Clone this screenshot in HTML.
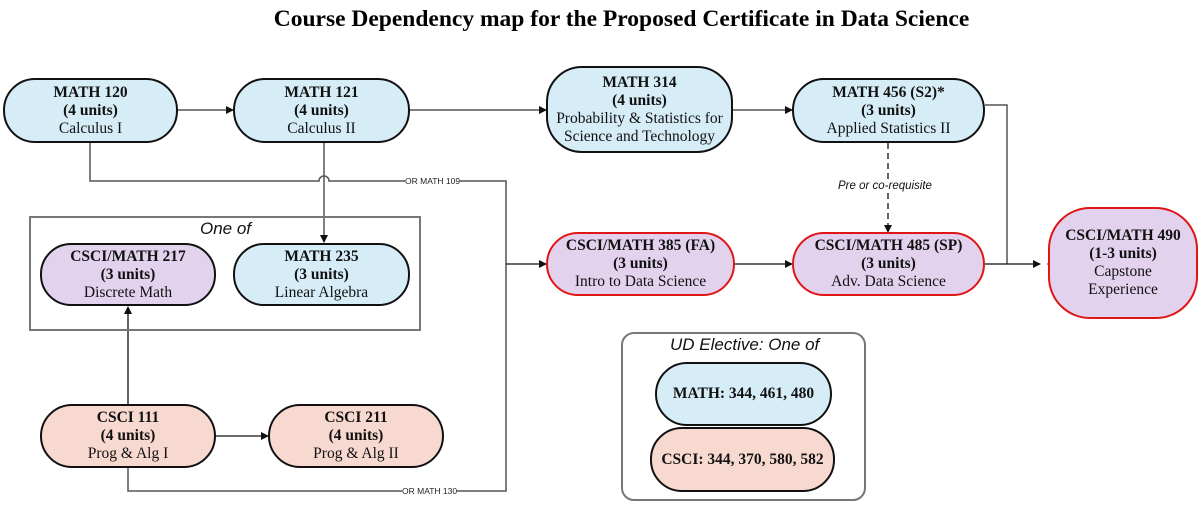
<!DOCTYPE html>
<html><head><meta charset="utf-8"><style>
body{margin:0;width:1201px;height:507px;background:#fff;position:relative;overflow:hidden;font-family:"Liberation Serif",serif}
.n{position:absolute;box-sizing:border-box;border:2px solid #111;display:flex;flex-direction:column;justify-content:center;align-items:center;text-align:center;font-size:15.5px;line-height:18px;color:#111;white-space:nowrap}
.n b{font-weight:bold}
.bl{background:#d6edf7}.pu{background:#e2d2ee}.pk{background:#f8d9d0}
.r{border-color:#e01515}
.lab{position:absolute;font-family:"Liberation Sans",sans-serif;font-size:8.5px;color:#222;background:#fff;line-height:11px}
.it{position:absolute;font-family:"Liberation Sans",sans-serif;font-style:italic;color:#111;white-space:nowrap}
</style></head><body>
<div style="position:absolute;left:0;width:1243px;top:6px;text-align:center;font-weight:bold;font-size:23.5px">Course Dependency map for the Proposed Certificate in Data Science</div>
<svg width="1201" height="507" style="position:absolute;left:0;top:0">
<defs><marker id="a" markerWidth="8" markerHeight="8" refX="7" refY="4" orient="auto" markerUnits="userSpaceOnUse"><path d="M0,0 L8,4 L0,8 z" fill="#111"/></marker></defs>
<g stroke="#555" stroke-width="1.5" fill="none">
<line x1="178" y1="110" x2="233" y2="110" marker-end="url(#a)"/>
<line x1="410" y1="110" x2="546" y2="110" marker-end="url(#a)"/>
<line x1="733" y1="110" x2="792" y2="110" marker-end="url(#a)"/>
<path d="M90,143 V181 H319 A5,5 0 0 1 329,181 H506 V491 H128 V468"/>
<line x1="324" y1="143" x2="324" y2="242" marker-end="url(#a)"/>
<path d="M985,105 H1007 V264"/>
</g>
<g stroke="#111" stroke-width="1.3" fill="none">
<line x1="128" y1="404" x2="128" y2="307" marker-end="url(#a)"/>
<line x1="216" y1="436" x2="268" y2="436" marker-end="url(#a)"/>
<line x1="506" y1="264" x2="546" y2="264" marker-end="url(#a)"/>
<line x1="735" y1="264" x2="792" y2="264" marker-end="url(#a)"/>
<line x1="985" y1="264" x2="1040" y2="264" marker-end="url(#a)"/>
<line x1="888" y1="143" x2="888" y2="232" stroke-dasharray="6,4" marker-end="url(#a)"/>
<path d="M1056,259 L1048,264 L1056,269 z" fill="#111"/>
</g>
<rect x="30" y="217" width="390" height="113" fill="none" stroke="#777" stroke-width="2"/>
<rect x="622" y="333" width="243" height="167" rx="12" fill="none" stroke="#777" stroke-width="2"/>
</svg>
<div class="lab" style="left:405px;top:176px">OR MATH 109</div>
<div class="lab" style="left:402px;top:486px">OR MATH 130</div>
<div class="it" style="left:838px;top:180px;font-size:11.5px;background:#fff">Pre or co-requisite</div>
<div class="it" style="left:200px;top:219px;font-size:17px">One of</div>
<div class="it" style="left:670px;top:335px;font-size:17px">UD Elective: One of</div>

<div class="n bl" style="left:3px;top:78px;width:175px;height:65px;border-radius:32px"><b>MATH 120</b><b>(4 units)</b>Calculus I</div>
<div class="n bl" style="left:233px;top:78px;width:177px;height:65px;border-radius:32px"><b>MATH 121</b><b>(4 units)</b>Calculus II</div>
<div class="n bl" style="left:546px;top:66px;width:187px;height:87px;border-radius:36px"><b>MATH 314</b><b>(4 units)</b>Probability &amp; Statistics for<br>Science and Technology</div>
<div class="n bl" style="left:792px;top:78px;width:193px;height:65px;border-radius:32px"><b>MATH 456 (S2)*</b><b>(3 units)</b>Applied Statistics II</div>
<div class="n pu" style="left:40px;top:243px;width:176px;height:63px;border-radius:31px"><b>CSCI/MATH 217</b><b>(3 units)</b>Discrete Math</div>
<div class="n bl" style="left:233px;top:243px;width:177px;height:63px;border-radius:31px"><b>MATH 235</b><b>(3 units)</b>Linear Algebra</div>
<div class="n pu r" style="left:546px;top:232px;width:189px;height:64px;border-radius:32px"><b>CSCI/MATH 385 (FA)</b><b>(3 units)</b>Intro to Data Science</div>
<div class="n pu r" style="left:792px;top:232px;width:193px;height:64px;border-radius:32px"><b>CSCI/MATH 485 (SP)</b><b>(3 units)</b>Adv. Data Science</div>
<div class="n pu r" style="left:1048px;top:207px;width:150px;height:112px;border-radius:42px"><b>CSCI/MATH 490</b><b>(1-3 units)</b>Capstone<br>Experience</div>
<div class="n pk" style="left:40px;top:404px;width:176px;height:64px;border-radius:32px"><b>CSCI 111</b><b>(4 units)</b>Prog &amp; Alg I</div>
<div class="n pk" style="left:268px;top:404px;width:176px;height:64px;border-radius:32px"><b>CSCI 211</b><b>(4 units)</b>Prog &amp; Alg II</div>
<div class="n bl" style="left:655px;top:362px;width:177px;height:64px;border-radius:32px"><b>MATH: 344, 461, 480</b></div>
<div class="n pk" style="left:650px;top:427px;width:185px;height:65px;border-radius:32px"><b>CSCI: 344, 370, 580, 582</b></div>
</body></html>
